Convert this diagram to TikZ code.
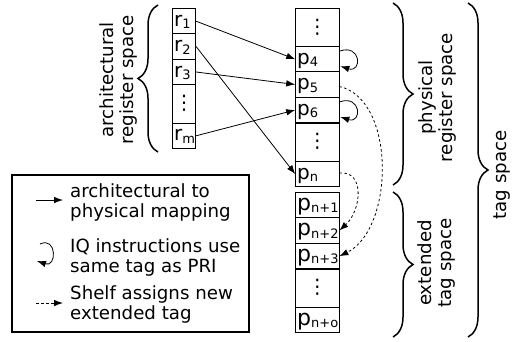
\documentclass[tikz,border=0pt]{standalone}
\usepackage{fontspec}
\setmainfont{DejaVu Sans}
\usetikzlibrary{arrows.meta,decorations.pathreplacing,calc}
% lowered, smaller index for register names
\newcommand{\regsub}[1]{\raisebox{-2.5pt}{\fontsize{13}{13}\selectfont #1}}

\begin{document}
\begin{tikzpicture}[x=1pt,y=-1pt,
  cell/.style={draw, line width=0.8pt, inner xsep=1.5pt, inner ysep=0pt,
    align=left, text height=12.5pt, text depth=2.5pt, minimum height=25.3pt,
    font=\fontsize{20}{20}\selectfont},
  acell/.style={cell, text width=20pt},
  pcell/.style={cell, text width=40.3pt},
  bigp/.style={font=\fontsize{22}{22}\selectfont},
  dotsrow/.style={minimum height=38.6pt, align=center, text height=11pt, text depth=0pt},
  map/.style={-{Latex[length=9pt,width=6.5pt]}, line width=0.8pt},
  shelf/.style={map, dash pattern=on 2.5pt off 2.5pt},
  bracestyle/.style={decorate, decoration={brace, amplitude=20pt}, line width=1.5pt},
  sidelabel/.style={rotate=90, align=center, inner sep=0pt,
    font=\fontsize{18.2}{20}\selectfont},
  legendbox/.style={draw, line width=1.5pt, minimum width=237pt, minimum height=157pt, inner sep=0pt},
  legendtext/.style={anchor=north west, align=left, inner sep=0pt,
    font=\fontsize{18.2}{20}\selectfont}
]
\useasboundingbox (0,0) rectangle (514,341);

% architectural registers
\node[acell] (r1) at (184.2,21.2) {r\regsub{1}};
\node[acell] (r2) at (184.2,46.5) {r\regsub{2}};
\node[acell] (r3) at (184.2,72) {r\regsub{3}};
\node[acell,dotsrow] (rdots) at (184.2,104) {⋮};
\node[acell] (rm) at (184.2,135.8) {r\regsub{m}};

% physical registers and extended tags
\node[pcell,dotsrow] (pdotsa) at (317.3,27.5) {⋮};
\node[pcell] (p4) at (317.3,59.2) {p\regsub{4}};
\node[pcell] (p5) at (317.3,84.5) {p\regsub{5}};
\node[pcell] (p6) at (317.3,110) {p\regsub{6}};
\node[pcell,dotsrow] (pdotsb) at (317.3,142.2) {⋮};
\node[pcell] (pn) at (317.3,174.1) {p\regsub{n}};
\node[pcell,bigp] (pn1) at (317.3,205.2) {p\regsub{n+1}};
\node[pcell,bigp] (pn2) at (317.3,230.5) {p\regsub{n+2}};
\node[pcell,bigp] (pn3) at (317.3,256.2) {p\regsub{n+3}};
\node[pcell,dotsrow] (pdotsc) at (317.3,288.3) {⋮};
\node[pcell,bigp] (pno) at (317.3,320.2) {p\regsub{n+o}};

% architectural to physical mapping
\draw[map] (r1.east) -- (p4.west);
\draw[map] (r2.east) -- (pn.west);
\draw[map] (r3.east) -- (p5.west);
\draw[map] (rm.east) -- (p6.west);

% IQ instructions keep the same tag
\draw[map] ($(p4.east)+(0,-8)$) .. controls ($(p4.east)+(22,-16)$) and ($(p4.east)+(23,14)$) .. ($(p4.east)+(1,7)$);
\draw[map] ($(p6.east)+(0,-8)$) .. controls ($(p6.east)+(22,-16)$) and ($(p6.east)+(23,14)$) .. ($(p6.east)+(1,7)$);

% shelf assigns extended tags
\draw[shelf] ($(p5.east)+(0,2)$) .. controls ($(p5.east)+(57,15)$) and ($(pn3.east)+(55,-27)$) .. (pn3.east);
\draw[shelf] ($(pn.east)+(0,-1)$) .. controls ($(pn.east)+(26,-4)$) and ($(pn2.east)+(22,-20)$) .. (pn2.east);

% braces
\coordinate (ab1) at (158,152);
\coordinate (ab2) at (158,5);
\coordinate (pb1) at (393,3);
\coordinate (pb2) at (393,185);
\coordinate (eb1) at (393,192);
\coordinate (eb2) at (393,337);
\coordinate (tb1) at (468,3);
\coordinate (tb2) at (468,337);
\draw[bracestyle] (ab1) -- (ab2);
\draw[bracestyle] (pb1) -- (pb2);
\draw[bracestyle] (eb1) -- (eb2);
\draw[bracestyle] (tb1) -- (tb2);

\node[sidelabel] (archlbl) at (118,80) {architectural\\register space};
\node[sidelabel] (physlbl) at (437,97.5) {physical\\register space};
\node[sidelabel] (extlbl) at (436.5,263) {extended\\tag space};
\node[sidelabel] (taglbl) at (502,175) {tag space};

% legend
\node[legendbox] (legend) at (130.5,253.5) {};
\coordinate (la1) at (36,200);
\coordinate (la2) at (63,200);
\draw[map] (la1) -- (la2);
\coordinate (lc1) at (40,244);
\coordinate (lc2) at (37,261);
\draw[map] (lc1) .. controls (57,236) and (57,268) .. (lc2);
\coordinate (ld1) at (36,303);
\coordinate (ld2) at (63,303);
\draw[shelf] (ld1) -- (ld2);
\node[legendtext] (lt1) at (70,183) {architectural to\\physical mapping};
\node[legendtext] (lt2) at (70,238.5) {IQ instructions use\\same tag as PRI};
\node[legendtext] (lt3) at (70,285) {Shelf assigns new\\extended tag};
\end{tikzpicture}
\end{document}
